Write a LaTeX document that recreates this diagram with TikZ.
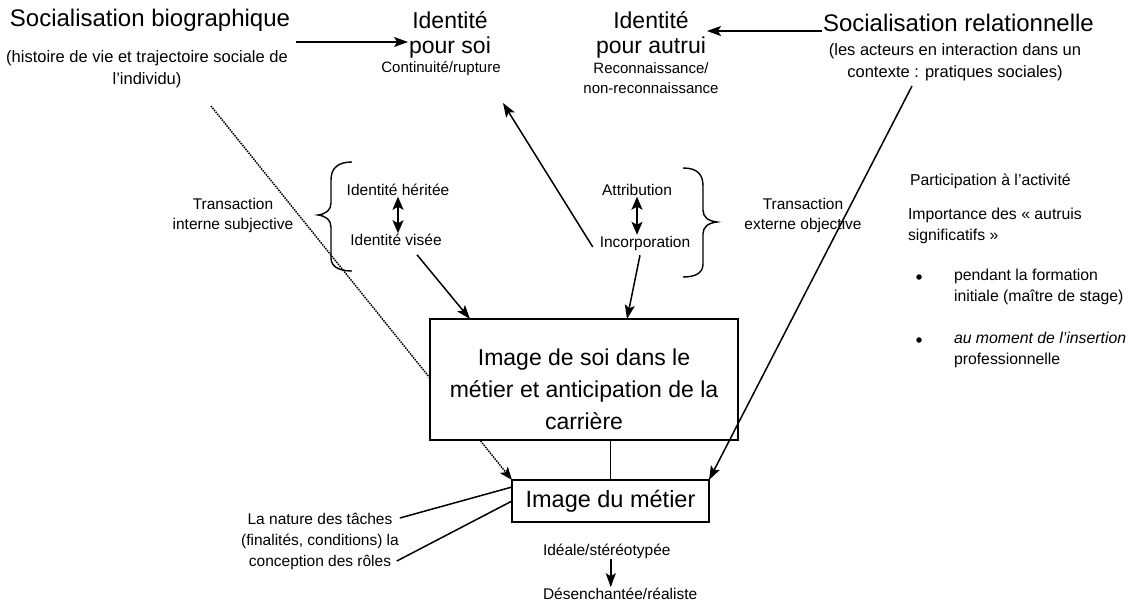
\documentclass[tikz,border=0pt]{standalone}
\usepackage{fontspec}
\setmainfont{Liberation Sans}
\usetikzlibrary{arrows.meta,calc}

\begin{document}
\begin{tikzpicture}[x=1pt,y=-1pt,
  every node/.style={inner sep=1pt, outer sep=0pt},
  ttl/.style={font=\fontsize{24}{28}\selectfont},
  idt/.style={font=\fontsize{23}{25}\selectfont, align=center},
  sub/.style={font=\fontsize{16.5}{22}\selectfont, align=center},
  lbl/.style={font=\fontsize{15.5}{21}\selectfont, align=center},
  sml/.style={font=\fontsize{15}{20}\selectfont, align=center},
  rt/.style={font=\fontsize{15.8}{21.5}\selectfont, align=left},
  boxnode/.style={draw, line width=1.5pt, fill=white, align=center},
  conn/.style={line width=1.5pt},
  arr/.style={conn, -{Stealth[length=14pt,width=10pt,inset=3pt]}},
  darr/.style={conn, {Stealth[length=13pt,width=11pt,inset=3pt]}-{Stealth[length=13pt,width=11pt,inset=3pt]}},
  brc/.style={line width=1.4pt},
  dots/.style={line width=1.5pt, densely dotted},
  bullet/.style={circle, fill, inner sep=0pt, minimum size=5.5pt}
]
\useasboundingbox (0,0) rectangle (1128,606);

% titles along the top
\node[ttl] (bio) at (150,20) {Socialisation biographique};
\node[sub] (biosub) at (147,69) {(histoire de vie et trajectoire sociale de\\l’individu)};
\node[idt] (ps) at (450,35) {Identité\\pour soi};
\node[sml] (pssub) at (441,69) {Continuité/rupture};
\node[idt] (pa) at (651,35) {Identité\\pour autrui};
\node[sml] (pasub) at (651,78) {Reconnaissance/\\non-reconnaissance};
\node[ttl, anchor=base west] (rel) at (822,31) {Socialisation relationnelle};
\node[sub] (relsub) at (955,62) {(les acteurs en interaction dans un\\contexte : pratiques sociales)};

% transactions
\node[lbl, font=\fontsize{15.5}{20}\selectfont] (trin) at (233,215) {Transaction\\interne subjective};
\node[lbl, font=\fontsize{15.5}{20}\selectfont] (trex) at (803,215) {Transaction\\externe objective};

\node[lbl] (her) at (398,190) {Identité héritée};
\node[lbl] (vis) at (396,240) {Identité visée};
\node[lbl] (att) at (637,190) {Attribution};
\node[lbl] (inc) at (645,243) {Incorporation};

\draw[darr] (her.south) -- (her.south |- vis.north);
\draw[darr] (att.south) -- (att.south |- inc.north);

% braces
\draw[brc] (352,162) .. controls (338,162) and (331,168) .. (331,180) -- (331,203)
  .. controls (331,210) and (326,214) .. (318,215)
  .. controls (326,216) and (331,220) .. (331,227) -- (331,258)
  .. controls (331,266) and (338,271) .. (352,271);
\draw[brc] (683,168) .. controls (697,168) and (703,174) .. (703,186) -- (703,210)
  .. controls (703,217) and (708,221) .. (717,222)
  .. controls (708,223) and (703,227) .. (703,234) -- (703,264)
  .. controls (703,272) and (697,277) .. (683,277);

% right-hand notes
\node[rt, anchor=west] (part) at (909,181) {Participation à l’activité};
\node[rt, anchor=west] (imp) at (907,226) {Importance des « autruis\\significatifs »};
\node[bullet] (d1) at (919,277) {};
\node[rt, anchor=west] (b1) at (953,287) {pendant la formation\\initiale (maître de stage)};
\node[bullet] (d2) at (919,340) {};
\node[rt, anchor=west] (b2) at (953,350) {\textit{au moment de l’insertion}\\professionnelle};

% image of the trade
\node[boxnode, minimum width=197, minimum height=42, font=\fontsize{23.5}{28}\selectfont] (metier) at (610.5,501) {Image du métier};

% dotted influence of the life story, passing behind the central box
\coordinate (dotstart) at (211,106);
\draw[dots, -{Stealth[length=13pt,width=10pt,inset=3pt]}] (dotstart) -- (metier.north west);

% self-image box; the strut leaves more room above the text
\node[boxnode, minimum width=308, minimum height=121, font=\fontsize{23}{32}\selectfont] (soi) at (584,379.5) {\rule{0pt}{37pt}Image de soi dans le\\métier et anticipation de la\\carrière};

\draw[conn] (metier.north) -- (metier.north |- soi.south);

% connectors
\coordinate (bioout) at (296,42);
\draw[arr] (bioout) -- (bioout -| ps.west);
\draw[arr] (rel.base west) -- (rel.base west -| pa.east);

\coordinate (relout) at (912,86);
\draw[arr] (relout) -- (metier.north east);

\draw[arr] ($(vis.south)+(21,8)$) -- ($(soi.north west)+(40,0)$);
\draw[arr] ($(inc.south)+(-5,4)$) -- ($(soi.north east)+(-111,0)$);
\coordinate (pstip) at (503,103);
\draw[arr] ($(inc.west)+(-6,4)$) -- (pstip);

% tasks and roles
\node[lbl] (nat) at (320,541) {La nature des tâches\\(finalités, conditions) la\\conception des rôles};
\draw[conn] ($(nat.east)+(0,-23)$) -- ($(metier.west)+(0,-14)$);
\draw[conn] ($(nat.east)+(-3,20)$) -- (metier.west);

% evolution of the image
\node[lbl, anchor=west] (ide) at (542,551) {Idéale/stéréotypée};
\node[lbl, anchor=west] (des) at (542,594) {Désenchantée/réaliste};
\coordinate (idx) at ($(ide.south)+(4,0)$);
\draw[arr] (idx) -- (idx |- des.north);

\end{tikzpicture}
\end{document}
